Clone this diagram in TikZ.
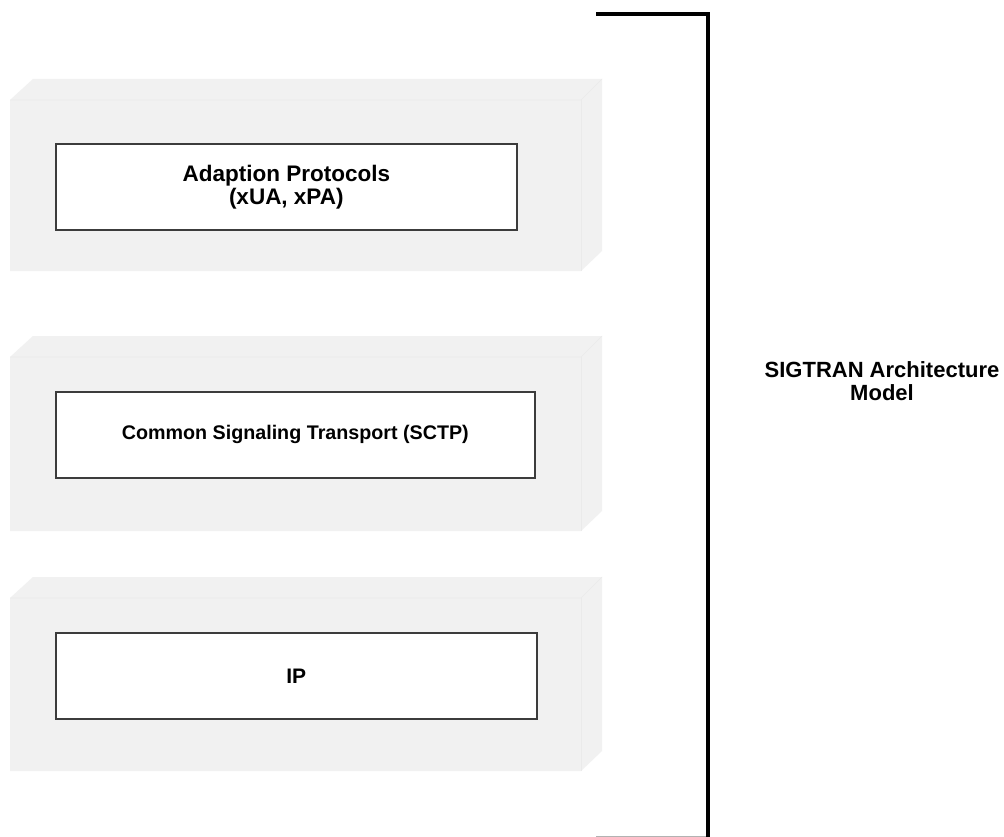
\documentclass[tikz,border=0pt]{standalone}
\usepackage{fontspec}
\setmainfont{Liberation Sans}
\definecolor{panelgray}{RGB}{241,241,241}
\definecolor{paneledge}{RGB}{234,234,234}
\definecolor{boxedge}{RGB}{60,60,60}
\begin{document}
\begin{tikzpicture}[x=1pt,y=-1pt,
  panel/.style={fill=panelgray,draw=none},
  layerbox/.style={draw=boxedge,line width=1.6pt,fill=white,anchor=north west,inner sep=0pt,
    font=\fontsize{21}{23}\selectfont\bfseries,align=center,minimum height=86pt},
  bracket/.style={line width=4pt,black},
  label/.style={font=\fontsize{22}{23}\selectfont\bfseries,align=center}]
\useasboundingbox (0,0) rectangle (1004,837);
\fill[white] (0,0) rectangle (1004,837);
% panels
\foreach \t/\b in {79/271, 336/531, 577/771}{
  \path[panel] (10,\t+21) -- (33,\t) -- (602,\t) -- (602,\b-20) -- (581,\b) -- (10,\b) -- cycle;
  \draw[paneledge,line width=0.6pt] (10,\t+21) -- (581,\t+21) -- (602,\t);
  \draw[paneledge,line width=0.6pt] (581,\t+21) -- (581,\b);
}
% layer boxes
\node[layerbox,minimum width=461pt,font=\fontsize{22.5}{23}\selectfont\bfseries] (adapt) at (55,143) {Adaption Protocols\\(xUA, xPA)};
\node[layerbox,minimum width=479pt,font=\fontsize{19.7}{23}\selectfont\bfseries] (sctp) at (55,391) {Common Signaling Transport (SCTP)};
\node[layerbox,minimum width=481pt] (ip) at (55,632) {IP};
% bracket
\coordinate (btl) at (596,14);
\coordinate (btr) at (708,14);
\coordinate (bbr) at (708,845);
\coordinate (bbl) at (596,836);
\coordinate (bbr2) at (706,836);
\draw[bracket] (btl) -- (btr) -- (bbr);
\draw[black!30,line width=1pt] (bbl) -- (bbr2);
\node[label] (model) at (882,381) {SIGTRAN Architecture\\Model};
\end{tikzpicture}
\end{document}
